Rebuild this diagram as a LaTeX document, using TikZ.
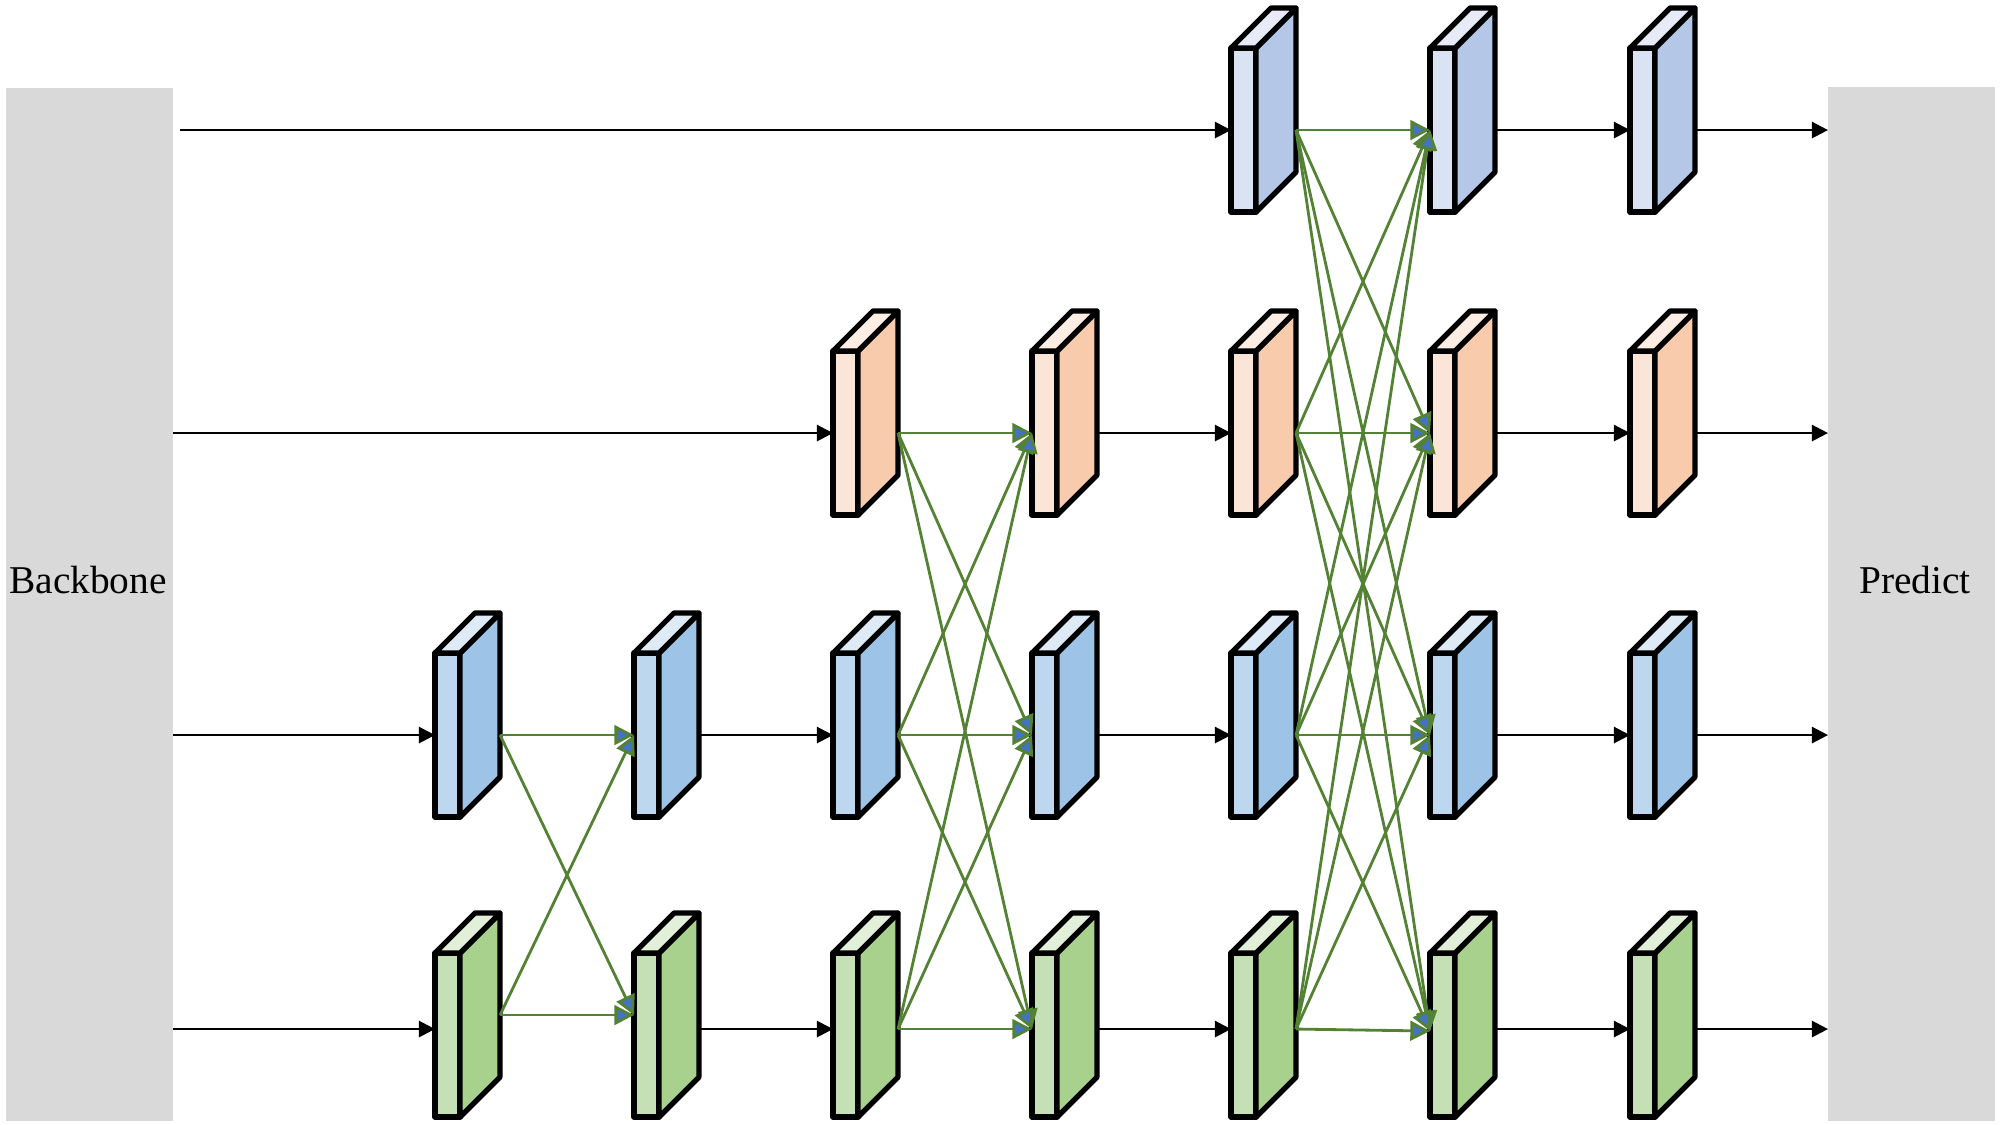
\documentclass[tikz,border=0pt]{standalone}
\usepackage{fontspec}
\setmainfont{Liberation Serif}
\usetikzlibrary{arrows.meta}
\definecolor{panelgray}{HTML}{D9D9D9}
\definecolor{lavF}{HTML}{DAE3F3}\definecolor{lavS}{HTML}{B4C7E7}\definecolor{lavT}{HTML}{E6EBF7}
\definecolor{orF}{HTML}{FBE5D6}\definecolor{orS}{HTML}{F8CBAD}\definecolor{orT}{HTML}{FDEDE3}
\definecolor{blF}{HTML}{BDD7EE}\definecolor{blS}{HTML}{9DC3E6}\definecolor{blT}{HTML}{DEEBF7}
\definecolor{grF}{HTML}{C5E0B4}\definecolor{grS}{HTML}{A9D18E}\definecolor{grT}{HTML}{E2F0D9}
\definecolor{linkgreen}{HTML}{548235}
\definecolor{tipblue}{HTML}{4472C4}
\newcommand\featblk[7]{%
  \node[blockface, fill=#4, anchor=north west] (#1) at (#2,#3) {};
  \draw[blockline, fill=#5] (#1.north east) -- ++(40,-40) -- ++(0,164) -- (#1.south east) -- cycle;
  \draw[blockline, fill=#6] (#1.north west) -- ++(40,-40) -- ++(25,0) -- (#1.north east) -- cycle;
  \coordinate (#1o) at ([xshift=0.4cm,yshift=#7]#1.east);
  \coordinate (#1i) at ([yshift=#7]#1.west);
}
\begin{document}
\begin{tikzpicture}[x=0.01cm,y=-0.01cm,
  blockface/.style={draw=black, line width=1.5pt, line join=round, minimum width=0.25cm, minimum height=1.64cm, inner sep=0pt, outer sep=0pt},
  blockline/.style={draw=black, line width=1.5pt, line join=round},
  panel/.style={fill=panelgray, draw=none, inner sep=0pt, outer sep=0pt, anchor=north west},
  lbl/.style={font=\fontsize{11.2}{13}\selectfont, inner sep=0pt},
  barrow/.style={draw=black, line width=0.7pt, -{Triangle[length=4.6pt,width=4.6pt]}},
  garrow/.style={draw=linkgreen, line width=0.8pt, -{Triangle[length=5.6pt,width=5.6pt,fill=tipblue]}}
]
\useasboundingbox (0,0) rectangle (2000,1124);
% panels
\node[panel, minimum width=1.67cm, minimum height=10.32cm] (bb) at (6,88) {};
\node[panel, minimum width=1.67cm, minimum height=10.33cm] (pr) at (1828,87) {};
\node[lbl] (bbt) at (88,580) {Backbone};
\node[lbl] (prt) at (1915,580) {Predict};
% blocks
\featblk{c1B}{435}{653}{blF}{blS}{blT}{0pt}
\featblk{c1G}{435}{953}{grF}{grS}{grT}{0.2cm}
\featblk{c2B}{634}{653}{blF}{blS}{blT}{0pt}
\featblk{c2G}{634}{953}{grF}{grS}{grT}{0.2cm}
\featblk{c3O}{833}{351}{orF}{orS}{orT}{0pt}
\featblk{c3B}{833}{653}{blF}{blS}{blT}{0pt}
\featblk{c3G}{833}{953}{grF}{grS}{grT}{0.06cm}
\featblk{c4O}{1032}{351}{orF}{orS}{orT}{0pt}
\featblk{c4B}{1032}{653}{blF}{blS}{blT}{0pt}
\featblk{c4G}{1032}{953}{grF}{grS}{grT}{0.06cm}
\featblk{c5L}{1231}{48}{lavF}{lavS}{lavT}{0pt}
\featblk{c5O}{1231}{351}{orF}{orS}{orT}{0pt}
\featblk{c5B}{1231}{653}{blF}{blS}{blT}{0pt}
\featblk{c5G}{1231}{953}{grF}{grS}{grT}{0.06cm}
\featblk{c6L}{1430}{48}{lavF}{lavS}{lavT}{0pt}
\featblk{c6O}{1430}{351}{orF}{orS}{orT}{0pt}
\featblk{c6B}{1430}{653}{blF}{blS}{blT}{0pt}
\featblk{c6G}{1430}{953}{grF}{grS}{grT}{0.04cm}
\featblk{c7L}{1630}{48}{lavF}{lavS}{lavT}{0pt}
\featblk{c7O}{1630}{351}{orF}{orS}{orT}{0pt}
\featblk{c7B}{1630}{653}{blF}{blS}{blT}{0pt}
\featblk{c7G}{1630}{953}{grF}{grS}{grT}{0.06cm}
% black arrows from backbone
\draw[barrow, shorten <=0.07cm] (bb.east |- c5Li) -- (c5Li);
\draw[barrow] (bb.east |- c3Oi) -- (c3Oi);
\draw[barrow] (bb.east |- c1Bi) -- (c1Bi);
\coordinate (g1in) at ([yshift=0.06cm]c1G.west);
\draw[barrow] (bb.east |- g1in) -- (g1in);
% black arrows between columns
\coordinate (g2out) at ([xshift=0.4cm,yshift=0.06cm]c2G.east);
\draw[barrow] (c2Bo) -- (c3Bi);
\draw[barrow] (g2out) -- (c3Gi);
\draw[barrow] (c4Oo) -- (c5Oi);
\draw[barrow] (c4Bo) -- (c5Bi);
\draw[barrow] (c4Go) -- (c5Gi);
\foreach \r in {L,O,B} {
  \draw[barrow] (c6\r o) -- (c7\r i);
  \draw[barrow] (c7\r o) -- (pr.west |- c7\r o);
}
\coordinate (g6out) at ([xshift=0.4cm,yshift=0.06cm]c6G.east);
\draw[barrow] (g6out) -- (c7Gi);
\draw[barrow] (c7Go) -- (pr.west |- c7Go);
% green cross connections
\foreach \a in {B,G} \foreach \b in {B,G} \draw[garrow] (c1\a o) -- (c2\b i);
\foreach \a in {O,B,G} \foreach \b in {O,B,G} \draw[garrow] (c3\a o) -- (c4\b i);
\foreach \a in {L,O,B,G} \foreach \b in {L,O,B,G} \draw[garrow] (c5\a o) -- (c6\b i);
\end{tikzpicture}
\end{document}
